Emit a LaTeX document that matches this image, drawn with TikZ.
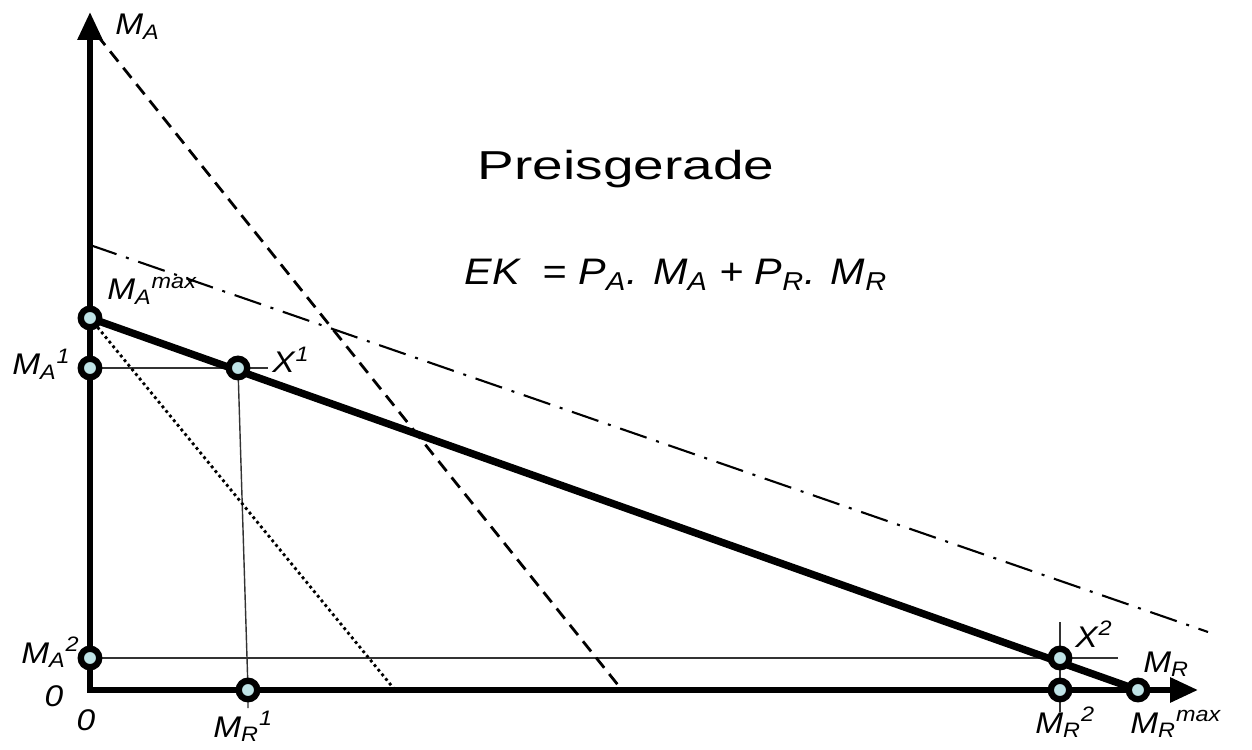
\documentclass[tikz,border=0pt]{standalone}
\usepackage{fontspec}
\setmainfont{Liberation Sans}[FakeStretch=1.12]
\newfontfamily\titlefont{Liberation Sans}[FakeStretch=1.36]
\newfontfamily\eqfont{Liberation Sans}[FakeStretch=1.12]
\usepackage{tikz}
\usetikzlibrary{arrows.meta}
\definecolor{PtFill}{HTML}{BFE3E6}
\definecolor{Guide}{HTML}{333333}
\newcommand{\mlab}[3]{\textit{#1\textsubscript{#2}\textsuperscript{#3}}}

\begin{document}
\begin{tikzpicture}[
  pt/.style={circle,draw=black,line width=3.6pt,fill=PtFill,inner sep=0pt,minimum size=0.37cm},
  axis/.style={line width=3.4pt,{Triangle[length=0.56cm,width=0.48cm]}-{Triangle[length=0.56cm,width=0.48cm]}},
  budget/.style={line width=4.2pt},
  guide/.style={line width=0.8pt,color=Guide},
  steep/.style={line width=1.6pt,dash pattern=on 0.26cm off 0.16cm},
  dots/.style={line width=1.6pt,dash pattern=on 1.6pt off 1.8pt},
  dashdot/.style={line width=1.2pt,dash pattern=on 0.56cm off 0.2cm on 0.06cm off 0.2cm},
  lab/.style={inner sep=0pt,font=\fontsize{17}{20}\selectfont\itshape}]
\useasboundingbox (0,0) rectangle (25.04,14.98);
% positions
\coordinate (O) at (1.8,1.18);
\coordinate (ytip) at (1.8,14.74);
\coordinate (xtip) at (23.96,1.18);
\coordinate (MAmax) at (1.8,8.62);
\coordinate (MA1) at (1.8,7.62);
\coordinate (MA2) at (1.8,1.82);
\coordinate (X1) at (4.76,7.62);
\coordinate (MR1) at (4.96,1.18);
\coordinate (X2) at (21.2,1.82);
\coordinate (MR2) at (21.2,1.18);
\coordinate (MRmax) at (22.76,1.18);
\coordinate (steepA) at (1.94,14.28);
\coordinate (steepR) at (12.44,1.18);
\coordinate (dotsR) at (7.9,1.18);
\coordinate (ddA) at (1.8,10.08);
\coordinate (ddR) at (24.16,2.34);
\coordinate (X1e) at (5.36,7.62);
\coordinate (X1t) at (4.76,7.86);
\coordinate (MR1b) at (4.96,0.82);
\coordinate (X2e) at (22.36,1.82);
\coordinate (X2t) at (21.2,2.54);
\coordinate (X2b) at (21.2,0.74);
% guide lines
\draw[guide] (MA1) -- (X1e);
\draw[guide] (X1t) -- (X1) -- (MR1) -- (MR1b);
\draw[guide] (MA2) -- (X2e);
\draw[guide] (X2t) -- (X2b);
% other price lines
\draw[steep] (steepA) -- (steepR);
\draw[dots] (MAmax) -- (dotsR);
\draw[dashdot] (ddA) -- (ddR);
% axes and budget line
\draw[axis] (ytip) -- (O) -- (xtip);
\draw[budget] (MAmax) -- (MRmax);
% points
\foreach \p in {MAmax,MA1,MA2,X1,MR1,X2,MR2,MRmax}
  \node[pt] (pt\p) at (\p) {};
% labels
\node[lab,anchor=base west] (lMA) at (2.3,14.28) {\mlab{M}{A}{}};
\node[lab,anchor=base west] (lMAmax) at (2.14,8.98) {\mlab{M}{A}{max}};
\node[lab,anchor=base east] (lMA1) at (1.42,7.48) {\mlab{M}{A}{1}};
\node[lab,anchor=base east] (lMA2) at (1.6,1.72) {\mlab{M}{A}{2}};
\node[lab] (lO1) at (1.08,1.06) {0};
\node[lab] (lO2) at (1.72,0.58) {0};
\node[lab,anchor=base west] (lX1) at (5.44,7.52) {\mlab{X}{}{1}};
\node[lab,anchor=base west] (lMR1) at (4.26,0.24) {\mlab{M}{R}{1}};
\node[lab,anchor=base west] (lMR2) at (20.7,0.32) {\mlab{M}{R}{2}};
\node[lab,anchor=base west] (lMRmax) at (22.6,0.32) {\mlab{M}{R}{max}};
\node[lab,anchor=base west] (lX2) at (21.5,2.04) {\mlab{X}{}{2}};
\node[lab,anchor=base west] (lMR) at (22.86,1.54) {\mlab{M}{R}{}};
\node[inner sep=0pt,anchor=base,font=\titlefont\fontsize{23}{27}\selectfont] (title) at (12.52,11.38) {Preisgerade};
\node[inner sep=0pt,anchor=base,font=\eqfont\fontsize{21}{25}\selectfont\itshape] (eq) at (13.52,9.28)
  {EK\ \ = P\textsubscript{A}. M\textsubscript{A} + P\textsubscript{R}. M\textsubscript{R}};
\end{tikzpicture}
\end{document}
